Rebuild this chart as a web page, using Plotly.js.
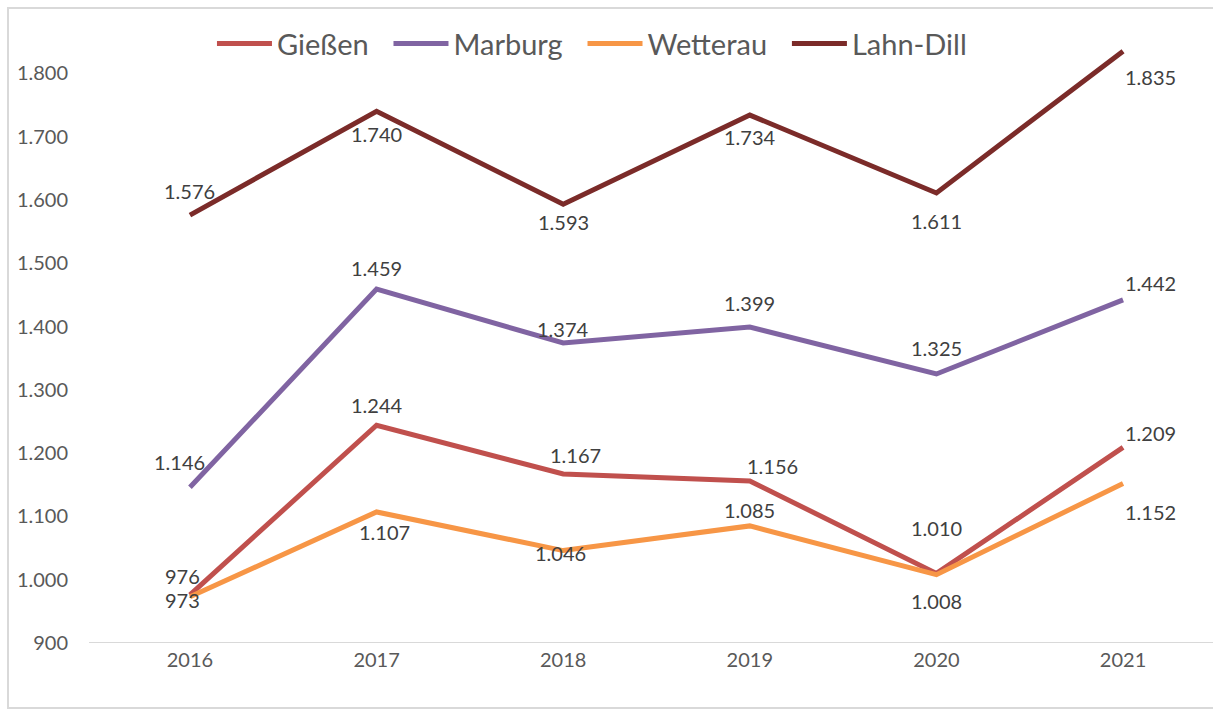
<!DOCTYPE html>
<html>
<head>
<meta charset="utf-8">
<script src="https://cdn.plot.ly/plotly-3.0.1.min.js"></script>
<style>
html,body{margin:0;padding:0;background:#fff;}
#chart{width:1213px;height:711px;}
</style>
</head>
<body>
<div id="chart"></div>
<script>
// ---- data ----
var years = [2016, 2017, 2018, 2019, 2020, 2021];
var seriesNames = ["Gießen", "Marburg", "Wetterau", "Lahn-Dill"];
var giessen  = [976, 1244, 1167, 1156, 1010, 1209];
var marburg  = [1146, 1459, 1374, 1399, 1325, 1442];
var wetterau = [973, 1107, 1046, 1085, 1008, 1152];
var lahnDill = [1576, 1740, 1593, 1734, 1611, 1835];
var yTicks = [900, 1000, 1100, 1200, 1300, 1400, 1500, 1600, 1700, 1800];

// ---- styles ----
var colors = ["#C0504D", "#8064A2", "#F79646", "#7B2B29"];
// label offsets (px) per series and point
var labelDx = [
  [-7, 0, 12, 23, 0, 27],
  [-10, 0, 0, 0, 0, 27],
  [-7, 8, -3, 0, 0, 27],
  [0, 0, 0, 0, 0, 27]
];
var labelDy = [
  [19, 20, 19, 15, 45, 14],
  [25, 21, 14, 24, 26, 17],
  [-3, -20, -2, 16, -26, -29],
  [24, -23, -18, -22, -28, -26]
];
var legendPad = "\u00a0\u00a0";

function fmt(v) {
  var s = String(v);
  if (s.length > 3) s = s.slice(0, s.length - 3) + "." + s.slice(s.length - 3);
  return s;
}

var allSeries = [giessen, marburg, wetterau, lahnDill];
var traces = allSeries.map(function (vals, i) {
  return {
    type: "scatter",
    mode: "lines",
    name: seriesNames[i] + (i < allSeries.length - 1 ? legendPad : ""),
    x: years,
    y: vals,
    line: {color: colors[i], width: 5},
    hoverinfo: "x+y+name"
  };
});

var annotations = [];
allSeries.forEach(function (vals, i) {
  vals.forEach(function (v, j) {
    annotations.push({
      x: years[j], y: v, xref: "x", yref: "y",
      text: fmt(v), showarrow: false,
      xshift: labelDx[i][j], yshift: labelDy[i][j],
      font: {family: "Lato, 'Open Sans', sans-serif", size: 20, color: "#404040"}
    });
  });
});

var layout = {
  width: 1213, height: 711,
  margin: {l: 89, r: 0, t: 10, b: 68, pad: 0},
  paper_bgcolor: "#ffffff", plot_bgcolor: "#ffffff",
  font: {family: "Lato, 'Open Sans', sans-serif", color: "#595959", size: 20},
  showlegend: true,
  legend: {
    orientation: "h", x: 0.1094, xanchor: "left", y: 0.947, yanchor: "middle",
    font: {size: 29, color: "#595959"}, bgcolor: "rgba(0,0,0,0)",
    itemwidth: 55, tracegroupgap: 0
  },
  xaxis: {
    range: [2016 - 0.541, 2021 + 0.482],
    tickvals: years, ticktext: years.map(String),
    showgrid: false, zeroline: false,
    showline: false, ticks: "",
    ticklabelstandoff: 3,
    tickfont: {size: 20, color: "#595959"}
  },
  yaxis: {
    range: [900, 1900], tickvals: yTicks,
    ticktext: yTicks.map(fmt),
    showgrid: false, zeroline: false, showline: false, ticks: "",
    ticklabelstandoff: 20,
    tickfont: {size: 20, color: "#595959"}
  },
  shapes: [
    {type: "line", xref: "paper", yref: "y", x0: 0, x1: 1.01, y0: 900, y1: 900,
     line: {color: "#d9d9d9", width: 2}, layer: "below"},
    {type: "rect", xref: "paper", yref: "paper",
     x0: (8 - 89) / 1124, x1: 1.02, y0: (643 - 708) / 633, y1: (643 - 8) / 633,
     line: {color: "#d9d9d9", width: 2}, fillcolor: "rgba(0,0,0,0)"}
  ],
  annotations: annotations
};

Plotly.newPlot("chart", traces, layout, {displayModeBar: false, staticPlot: true});
</script>
</body>
</html>
